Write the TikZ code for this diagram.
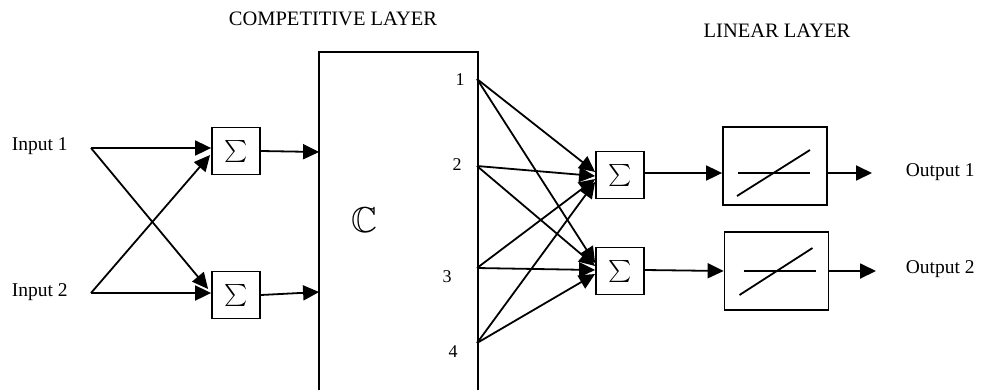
\documentclass[tikz,border=0pt]{standalone}
\usepackage{amssymb}
\usepackage{fontspec}
\setmainfont{Liberation Serif}
\usetikzlibrary{arrows.meta,calc}
\begin{document}
\begin{tikzpicture}[x=1pt,y=-1pt,
  line width=1.8pt,
  tip/.style={-{Triangle[length=16pt,width=15pt]}},
  sumbox/.style={draw,minimum width=48pt,minimum height=47pt,inner sep=0pt,font=\fontsize{22}{24}\selectfont},
  linbox/.style={draw,minimum width=104pt,minimum height=78pt,inner sep=0pt},
  lbl/.style={font=\fontsize{19.5}{22}\selectfont,inner sep=0pt},
  ttl/.style={font=\fontsize{20.5}{23}\selectfont,inner sep=0pt},
  num/.style={font=\fontsize{18}{20}\selectfont,inner sep=0pt}]
\useasboundingbox (0,0) rectangle (981,389);
% titles
\node[ttl] (t1) at (333,19) {COMPETITIVE LAYER};
\node[ttl] (t2) at (777,31) {LINEAR LAYER};
% inputs
\node[lbl,anchor=west] (in1) at (11,146) {Input 1};
\node[lbl,anchor=west] (in2) at (11,292) {Input 2};
\coordinate (i1) at (91,148);
\coordinate (i2) at (91,293);
% first sum boxes
\node[sumbox] (s1) at (236,151) {$\sum$};
\node[sumbox] (s2) at (236,295) {$\sum$};
\draw[tip] (i1) -- (s1.west |- i1);
\draw[tip] (i1) -- ($(s2.west)+(-3,-6)$);
\draw[tip] (i2) -- (s2.west |- i2);
\draw[tip] (i2) -- ($(s1.west)+(-1,4)$);
% competitive box
\node[minimum width=157pt,minimum height=345pt,inner sep=0pt] (C) at (398.5,225.5) {};
\draw (C.south west) -- (C.north west) -- (C.north east) -- (C.south east);
\node[font=\fontsize{36}{40}\selectfont] (cc) at (364,220) {$\mathbb{C}$};
\draw[tip] (s1.east) -- (C.west |- 0,152);
\draw[tip] (s2.east) -- (C.west |- 0,292);
% outputs of C
\coordinate (o1) at (477,79);
\coordinate (o2) at (477,166);
\coordinate (o3) at (477,268);
\coordinate (o4) at (477,343);
\node[num] (n1) at (460,80) {1};
\node[num] (n2) at (457,165) {2};
\node[num] (n3) at (447,277) {3};
\node[num] (n4) at (453,352) {4};
% second sum boxes
\node[sumbox] (s3) at (620,175) {$\sum$};
\node[sumbox] (s4) at (620,271) {$\sum$};
\foreach \o/\d in {o1/-3,o2/1,o3/4,o4/7}{
  \draw[tip] (\o) -- ($(s3.west)+(0,\d)$);
}
\foreach \o/\d in {o1/-8,o2/-5,o3/-1,o4/3}{
  \draw[tip] (\o) -- ($(s4.west)+(0,\d)$);
}
% linear boxes
\node[linbox] (l1) at (775,166) {};
\node[linbox] (l2) at (776.5,271) {};
\draw ($(l1.center)+(-37,7)$) -- ($(l1.center)+(35,7)$);
\draw ($(l1.center)+(-38,30)$) -- ($(l1.center)+(35,-16)$);
\draw ($(l2.center)+(-33,0)$) -- ($(l2.center)+(39,0)$);
\draw ($(l2.center)+(-37,24)$) -- ($(l2.center)+(36,-23)$);
\draw[tip] (s3.east |- 0,173) -- (l1.west |- 0,173);
\draw[tip] (s4.east |- 0,270) -- (l2.west |- 0,271);
% outputs
\node[lbl,anchor=west] (out1) at (905,172) {Output 1};
\node[lbl,anchor=west] (out2) at (905,269) {Output 2};
\draw[tip] (l1.east |- 0,173) -- (872,173);
\draw[tip] (l2.east |- 0,271) -- (876,271);
\end{tikzpicture}
\end{document}
